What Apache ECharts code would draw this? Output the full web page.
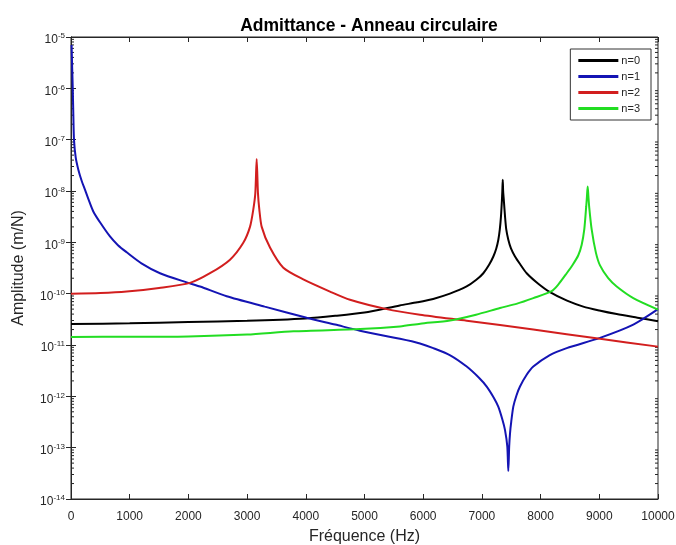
<!DOCTYPE html>
<html>
<head>
<meta charset="utf-8">
<script src="https://cdn.jsdelivr.net/npm/echarts@6/dist/echarts.min.js"></script>
<style>html,body{margin:0;padding:0;background:#fff}#c{width:676px;height:545px}</style>
</head>
<body>
<div id="c"></div>
<script>
// ---- data ----
const xTicks = [0,1000,2000,3000,4000,5000,6000,7000,8000,9000,10000];
const seriesNames = ['n=0','n=1','n=2','n=3'];

const n0Freq = [0,1000,2000,3000,4000,4500,5000,5600,5900,6170,6455,6740,6905,7024,7125,7195,7245,7280,7305,7325,7340,7348,7355,7362,7375,7394,7415,7450,7495,7564,7655,7763,7955,8160,8450,8727,9000,9296,9650,10000];
const n0Amp  = [2.56e-11,2.65e-11,2.8e-11,2.97e-11,3.3e-11,3.7e-11,4.3e-11,5.9e-11,6.8e-11,7.9e-11,1.0e-10,1.38e-10,1.86e-10,2.5e-10,3.7e-10,5.3e-10,7.6e-10,1.12e-9,1.78e-9,3.2e-9,6.3e-9,1.0e-8,1.66e-8,1.0e-8,6.3e-9,3.2e-9,1.78e-9,1.12e-9,7.6e-10,5.3e-10,3.7e-10,2.5e-10,1.58e-10,1.07e-10,7.3e-11,5.6e-11,4.7e-11,4.0e-11,3.4e-11,2.9e-11];

const n1Freq = [10,20,29,40,51,80,125,180,238,300,380,500,664,800,949,1200,1516,1971,2198,2652,3300,4015,4500,4923,5605,5945,6172,6460,6741,6950,7082,7200,7279,7350,7394,7433,7450,7465,7479,7500,7535,7590,7649,7760,7876,8150,8445,9012,9579,10000];
const n1Amp  = [7e-6,2.5e-6,1.1e-6,3e-7,1e-7,4.5e-8,2.6e-8,1.6e-8,1.06e-8,6.8e-9,4e-9,2.4e-9,1.3e-9,8.8e-10,6.4e-10,3.9e-10,2.5e-10,1.66e-10,1.38e-10,8.9e-11,5.6e-11,3.4e-11,2.5e-11,1.9e-11,1.32e-11,1.07e-11,8.7e-12,6.3e-12,3.8e-12,2.3e-12,1.55e-12,9.5e-13,6.3e-13,3.5e-13,2.2e-13,1.05e-13,3.5e-14,1.05e-13,1.9e-13,3.2e-13,6.3e-13,1.05e-12,1.55e-12,2.6e-12,3.8e-12,6.3e-12,8.7e-12,1.38e-11,2.5e-11,5.0e-11];

const n2Freq = [0,500,949,1500,2027,2368,2709,2935,3049,3106,3140,3163,3185,3208,3249,3390,3617,3957,4412,4753,5378,5945,6741,7876,9012,10000];
const n2Amp  = [1.0e-10,1.03e-10,1.1e-10,1.29e-10,1.62e-10,2.5e-10,4.6e-10,9.8e-10,2.0e-9,4.4e-9,9.1e-9,4.2e-8,9.1e-9,4.4e-9,2.0e-9,7.9e-10,3.2e-10,1.9e-10,1.1e-10,7.6e-11,5.0e-11,3.9e-11,2.97e-11,2.0e-11,1.32e-11,9.3e-12];

const n3Freq = [0,1000,2000,3000,3790,4926,5605,5950,6457,6900,7308,7600,7876,8189,8300,8445,8550,8642,8700,8744,8777,8790,8802,8814,8827,8870,8942,9012,9152,9296,9579,10000];
const n3Amp  = [1.43e-11,1.45e-11,1.47e-11,1.6e-11,1.85e-11,2.04e-11,2.3e-11,2.6e-11,3.0e-11,3.9e-11,5.25e-11,6.4e-11,8.2e-11,1.12e-10,1.5e-10,2.5e-10,3.7e-10,5.6e-10,9e-10,1.78e-9,5e-9,8e-9,1.23e-8,8e-9,5e-9,1.78e-9,6.3e-10,3.55e-10,2.0e-10,1.38e-10,8.2e-11,4.9e-11];

const colors = ['#000000','#1414b4','#d21e1e','#22dd22'];
// ----------------------------------------------

const zip = (xs, ys) => xs.map((x, i) => [x, ys[i]]);
const seriesData = [zip(n0Freq,n0Amp), zip(n1Freq,n1Amp), zip(n2Freq,n2Amp), zip(n3Freq,n3Amp)];

// log-spaced minor tick positions (2..9 x 10^e)
const minorTicks = [];
for (let e = -14; e < -5; e++) for (let k = 2; k <= 9; k++) minorTicks.push(k * Math.pow(10, e));

const txt = '#262626';
const font = 'Liberation Sans, Arial, sans-serif';
const xMin = xTicks[0], xMax = xTicks[xTicks.length - 1];

const chart = echarts.init(document.getElementById('c'), null, {renderer:'canvas'});
chart.setOption({
  animation: false,
  backgroundColor: '#fff',
  title: {
    text: 'Admittance - Anneau circulaire',
    left: 364, top: 12, textAlign: 'center',
    textStyle: {fontFamily: font, fontSize: 17.5, fontWeight: 'bold', color: '#000'}
  },
  legend: {
    orient: 'vertical',
    right: 25, top: 49,
    data: seriesNames,
    icon: 'rect',
    itemWidth: 40, itemHeight: 3,
    itemGap: 5,
    padding: [6, 11, 6, 8],
    borderColor: '#333', borderWidth: 1,
    backgroundColor: '#fff',
    textStyle: {fontFamily: font, fontSize: 11, color: txt, padding: [0,0,0,-2]}
  },
  grid: {left: 71, right: 18, top: 37, bottom: 46, outerBoundsMode: 'none', containLabel: false,
         show: true, borderColor: txt, borderWidth: 1, backgroundColor: 'transparent'},
  xAxis: [{
    type: 'value', min: xMin, max: xMax, interval: 1000,
    name: 'Fréquence (Hz)', nameLocation: 'middle', nameGap: 30,
    nameTextStyle: {fontFamily: font, fontSize: 16, color: txt},
    axisLine: {show: true, lineStyle: {color: txt}},
    axisTick: {show: true, inside: true, length: 5, lineStyle: {color: txt}},
    axisLabel: {fontFamily: font, fontSize: 12, color: txt, margin: 12, formatter: v => String(v)},
    splitLine: {show: false}
  }, {
    type: 'value', position: 'top', min: xMin, max: xMax, interval: 1000,
    axisLine: {show: true, lineStyle: {color: txt}},
    axisTick: {show: true, inside: true, length: 5, lineStyle: {color: txt}},
    axisLabel: {show: false}, splitLine: {show: false}
  }],
  yAxis: [{
    type: 'log', logBase: 10, min: 1e-14, max: 1e-5, interval: 1,
    name: 'Amplitude (m/N)', nameLocation: 'middle', nameGap: 44,
    nameTextStyle: {fontFamily: font, fontSize: 16, color: txt},
    axisLine: {show: true, lineStyle: {color: txt}},
    axisTick: {show: true, inside: true, length: 5, lineStyle: {color: txt}},
    axisLabel: {
      margin: 6,
      padding: [4, 0, 0, 0],
      formatter: v => '{b|10}{s|' + Math.round(Math.log10(v)) + '}',
      rich: {
        b: {fontFamily: font, fontSize: 12, color: txt, verticalAlign: 'bottom', lineHeight: 14},
        s: {fontFamily: font, fontSize: 8, color: txt, verticalAlign: 'top', lineHeight: 14}
      }
    },
    splitLine: {show: false}
  }, {
    type: 'log', logBase: 10, min: 1e-14, max: 1e-5, interval: 1, position: 'right',
    axisLine: {show: true, lineStyle: {color: txt}},
    axisTick: {show: true, inside: true, length: 5, lineStyle: {color: txt}},
    axisLabel: {show: false}, splitLine: {show: false}
  }],
  series: seriesNames.map((name, i) => ({
    name, type: 'line', data: seriesData[i],
    xAxisIndex: 0, yAxisIndex: 0,
    showSymbol: false, symbol: 'none', smooth: 0.25,
    lineStyle: {color: colors[i], width: 2},
    itemStyle: {color: colors[i]},
    z: 3 + i
  })).concat([{
    type: 'custom', name: 'minor', silent: true, xAxisIndex: 0, yAxisIndex: 0,
    data: minorTicks.map(v => [xMin, v]),
    renderItem: (params, api) => {
      const l = api.coord([xMin, api.value(1)]);
      const r = api.coord([xMax, api.value(1)]);
      return {type: 'group', children: [
        {type: 'line', shape: {x1: l[0], y1: l[1], x2: l[0] + 3, y2: l[1]}, style: {stroke: txt, lineWidth: 1}},
        {type: 'line', shape: {x1: r[0] - 3, y1: r[1], x2: r[0], y2: r[1]}, style: {stroke: txt, lineWidth: 1}}
      ]};
    },
    z: 2
  }])
});
</script>
</body>
</html>
